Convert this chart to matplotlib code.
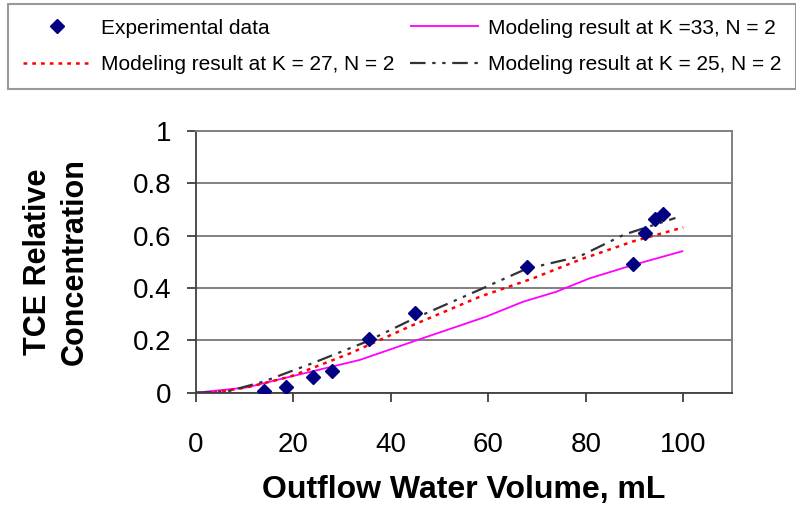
import matplotlib
matplotlib.use("Agg")
import matplotlib.pyplot as plt

plt.rcParams['font.family'] = ['Liberation Sans', 'DejaVu Sans']

# Experimental data
exp_x = [14.0, 18.4, 24.1, 27.9, 35.6, 45.0, 68.0, 89.7, 92.2, 94.3, 95.8]
exp_y = [0.006, 0.023, 0.061, 0.084, 0.205, 0.305, 0.481, 0.490, 0.608, 0.664, 0.681]

# Model K = 33
k33_x = [0, 10.4, 19.3, 33.6, 45.9, 59.5, 67.1, 73.9, 80.7, 89.6, 100]
k33_y = [0, 0.020, 0.061, 0.125, 0.204, 0.290, 0.347, 0.385, 0.436, 0.487, 0.541]

# Model K = 27
k27_x = [0, 3.5, 10.4, 19.3, 31.6, 44.5, 58.2, 69.1, 78.7, 89.6, 100]
k27_y = [0, 0.0, 0.020, 0.061, 0.150, 0.258, 0.366, 0.436, 0.507, 0.577, 0.631]

# Model K = 25
k25_x = [0, 6.3, 13.8, 24.1, 35.0, 44.5, 58.2, 67.7, 78.7, 87.8, 98.4]
k25_y = [0, 0.004, 0.042, 0.114, 0.195, 0.281, 0.393, 0.472, 0.520, 0.603, 0.667]

x_ticks = [0, 20, 40, 60, 80, 100]
y_ticks = [0, 0.2, 0.4, 0.6, 0.8, 1]
y_tick_labels = ['0', '0.2', '0.4', '0.6', '0.8', '1']

labels = ['Experimental data', 'Modeling result at K =33, N = 2',
          'Modeling result at K = 27, N = 2', 'Modeling result at K = 25, N = 2']

fig = plt.figure(figsize=(7.96, 5.12), dpi=100)
ax = fig.add_axes([196/796, 1-392.7/512, (732-196)/796, (392.7-130.7)/512])

l33, = ax.plot(k33_x, k33_y, color='#FF00FF', lw=1.3, solid_capstyle='butt')
l27, = ax.plot(k27_x, k27_y, color='#FF0000', lw=1.8, linestyle=(0, (1.5, 2.0)))
l25, = ax.plot(k25_x, k25_y, color='#333333', lw=1.6, linestyle=(0, (7, 3, 1.5, 3, 1.5, 3)))
sc, = ax.plot(exp_x, exp_y, linestyle='none', marker='D', color='#000080', markersize=7.5, zorder=5)

ax.set_xlim(0, 110)
ax.set_ylim(0, 1)
ax.set_xticks(x_ticks)
ax.set_yticks(y_ticks)
ax.set_yticklabels(y_tick_labels)
ax.tick_params(axis='both', labelsize=20, direction='out', length=6.5, width=1.3, color='#404040')
ax.tick_params(axis='x', pad=22)
ax.tick_params(axis='y', pad=11)
ax.grid(axis='y', color='#808080', lw=1.4)
ax.set_axisbelow(True)
for s in ['top', 'right']:
    ax.spines[s].set_color('#808080')
    ax.spines[s].set_linewidth(1.4)
for s in ['left', 'bottom']:
    ax.spines[s].set_color('#404040')
    ax.spines[s].set_linewidth(1.3)

ax.set_xlabel('Outflow Water Volume, mL', fontsize=23, fontweight='bold', labelpad=12)
ax.set_ylabel('TCE Relative\nConcentration', fontsize=22, fontweight='bold', labelpad=31, linespacing=1.3)

leg = fig.legend([sc, l27, l33, l25], [labels[0], labels[2], labels[1], labels[3]],
                 ncol=2, loc='upper left', bbox_to_anchor=(8/796, 1-87/512, 788/796, 83/512),
                 mode='expand', fontsize=15, frameon=True, fancybox=False,
                 handlelength=3.3, handletextpad=0.45, labelspacing=0.85, borderpad=0.7,
                 columnspacing=0.5, borderaxespad=0)
leg.get_frame().set_edgecolor('#808080')
leg.get_frame().set_linewidth(1.5)

fig.savefig('out.png', dpi=100)
